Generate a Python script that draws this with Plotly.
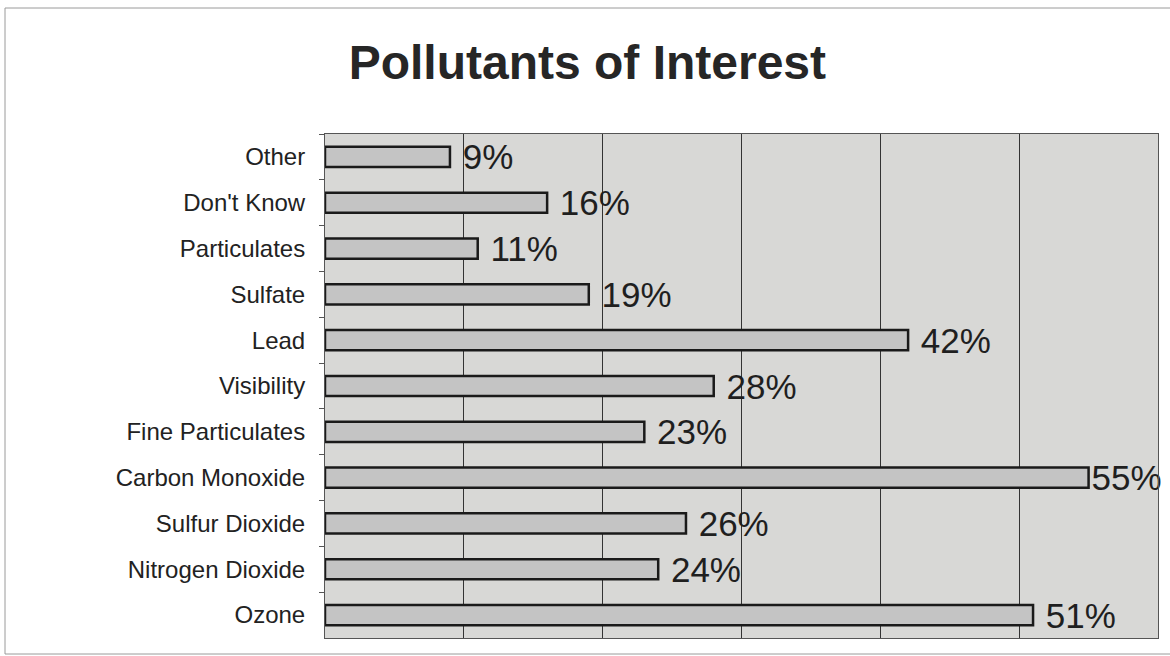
import plotly.graph_objects as go

# Survey responses: share of respondents naming each pollutant
categories = [
    "Other", "Don't Know", "Particulates", "Sulfate", "Lead", "Visibility",
    "Fine Particulates", "Carbon Monoxide", "Sulfur Dioxide",
    "Nitrogen Dioxide", "Ozone",
]
percent = [9, 16, 11, 19, 42, 28, 23, 55, 26, 24, 51]

x_ticks = [0, 10, 20, 30, 40, 50, 60]

FONT = "Liberation Sans, Arial, sans-serif"

# value labels, the longest bar's label sits tight against its bar
peak = max(percent)
labels = [f"{v}%" if v == peak else f" {v}%" for v in percent]

fig = go.Figure(
    go.Bar(
        x=percent,
        y=categories,
        orientation="h",
        width=0.44,
        marker=dict(color="#c4c4c4", line=dict(color="#1a1a1a", width=2.5)),
        text=labels,
        textposition="outside",
        constraintext="none",
        textfont=dict(family=FONT, size=35, color="#1f1f1f"),
        cliponaxis=False,
        hoverinfo="skip",
    )
)

fig.update_layout(
    width=1170,
    height=656,
    margin=dict(l=325, r=12, t=134, b=18),
    paper_bgcolor="white",
    plot_bgcolor="#d8d8d6",
    showlegend=False,
    title=dict(
        text="<b>Pollutants of Interest</b>",
        x=0.502,
        xanchor="center",
        y=0.905,
        yanchor="middle",
        font=dict(family=FONT, size=48, color="#262626"),
    ),
    xaxis=dict(
        range=[0, 60],
        tickvals=x_ticks,
        showticklabels=False,
        showgrid=True,
        gridcolor="#333333",
        gridwidth=1,
        zeroline=False,
        showline=True,
        linecolor="#555555",
        linewidth=1,
        mirror=True,
        ticks="",
    ),
    yaxis=dict(
        type="category",
        autorange="reversed",
        tickson="boundaries",
        ticks="outside",
        ticklen=5,
        tickcolor="#555555",
        showgrid=False,
        showline=True,
        linecolor="#555555",
        linewidth=1,
        mirror=True,
        tickfont=dict(family=FONT, size=24, color="#222222"),
        ticklabelstandoff=14,
    ),
)

# thin frame around the chart (right side falls outside the page)
fig.add_shape(
    type="rect", xref="paper", yref="paper",
    x0=-320 / 833, x1=1 + 40 / 833,
    y0=-16 / 504, y1=1 + 126 / 504,
    line=dict(color="#9a9a9a", width=1),
    layer="below",
)

fig.write_html("out.html")
